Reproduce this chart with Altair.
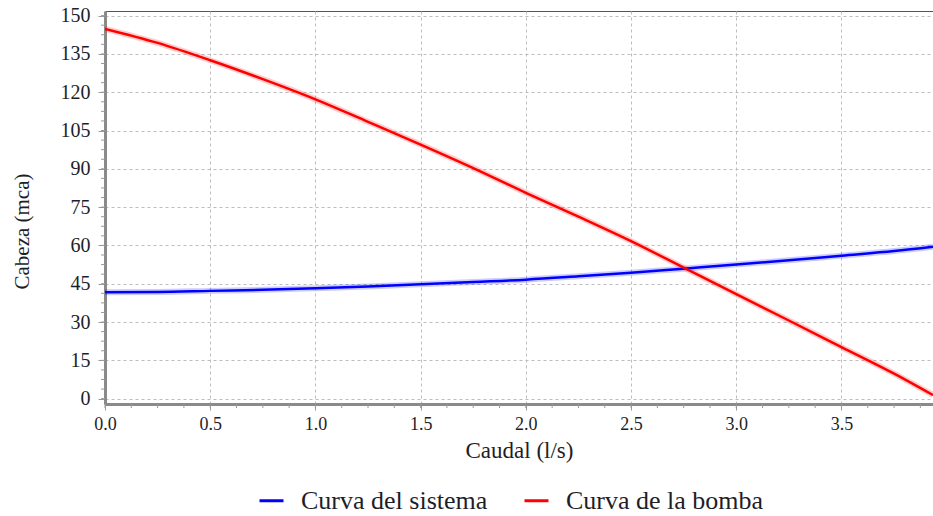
import altair as alt
import pandas as pd

# Caudal (l/s) at which both curves are sampled
caudal = [0.0, 0.25, 0.5, 0.75, 1.0, 1.25, 1.5, 1.75, 2.0, 2.25, 2.5,
          2.75, 3.0, 3.25, 3.5, 3.75, 3.935]

# Cabeza (mca) of the system curve
cabeza_sistema = [41.7, 41.8, 42.2, 42.6, 43.2, 43.9, 44.8, 45.7, 46.6,
                  47.9, 49.3, 50.9, 52.5, 54.2, 56.0, 57.8, 59.5]

# Cabeza (mca) of the pump curve
cabeza_bomba = [144.8, 139.3, 132.5, 125.1, 117.2, 108.4, 99.5, 90.3, 80.6,
                71.3, 61.7, 51.3, 40.9, 30.6, 20.2, 9.8, 1.4]

series_names = ["Curva del sistema", "Curva de la bomba"]
series_colors = ["#0000ff", "#ff0000"]

x_ticks = [0.0, 0.5, 1.0, 1.5, 2.0, 2.5, 3.0, 3.5]
y_ticks = [0, 15, 30, 45, 60, 75, 90, 105, 120, 135, 150]
x_minor = [0.125 * i for i in range(0, 32)]
y_minor = [3.75 * i for i in range(0, 41)]

x_domain = [0, 3.935]
y_domain = [-2.1, 151.8]

rows = []
for q, s, b in zip(caudal, cabeza_sistema, cabeza_bomba):
    rows.append({"caudal": q, "cabeza": s, "serie": series_names[0]})
    rows.append({"caudal": q, "cabeza": b, "serie": series_names[1]})
df = pd.DataFrame(rows)

FONT = "Liberation Serif"
TEXT = "#1e1e28"

x_scale = alt.Scale(domain=x_domain, nice=False, zero=False)
y_scale = alt.Scale(domain=y_domain, nice=False, zero=False)
color_scale = alt.Scale(domain=series_names, range=series_colors)

x_axis = alt.Axis(
    values=x_ticks, format=".1f", title="Caudal (l/s)",
    labelFont=FONT, labelFontSize=18, labelPadding=5, tickSize=6,
    labelFlush=False, labelOverlap=False,
    titleFont=FONT, titleFontSize=23, titleFontWeight="normal",
    titleBaseline="middle", titleY=46,
)
y_axis = alt.Axis(
    values=y_ticks, format="d", title="Cabeza (mca)",
    labelFont=FONT, labelFontSize=20, labelPadding=8, tickSize=7,
    labelFlush=False, labelOverlap=False,
    titleFont=FONT, titleFontSize=21, titleFontWeight="normal",
    titleAngle=270, titleAlign="center", titleBaseline="middle",
    titleX=-83, titleY=220,
)
legend = alt.Legend(
    title=None, orient="none", direction="horizontal", columns=2,
    legendX=153, legendY=476, symbolType="stroke", symbolSize=576,
    symbolStrokeWidth=3, symbolOpacity=1, labelFontSize=26, labelFont=FONT,
    labelColor=TEXT, labelOffset=16, labelLimit=0, columnPadding=30,
    padding=0,
)

X = alt.X("caudal:Q", scale=x_scale, axis=x_axis)
Y = alt.Y("cabeza:Q", scale=y_scale, axis=y_axis)
C = alt.Color("serie:N", scale=color_scale, sort=series_names, legend=legend)

base = alt.Chart(df)

# soft halo under each curve
halo = base.mark_line(
    strokeWidth=6, opacity=0.2, clip=True, interpolate="monotone"
).encode(x=X, y=Y, color=C)

curves = base.mark_line(
    strokeWidth=2.5, clip=True, interpolate="monotone"
).encode(x=X, y=Y, color=C)

# minor ticks along the bottom axis
x_minor_ticks = alt.Chart(pd.DataFrame({"v": x_minor})).mark_rule(
    color="#999999", strokeWidth=1
).encode(
    x=alt.X("v:Q", scale=x_scale, axis=x_axis),
    y=alt.value(393),
    y2=alt.value(397),
)

# minor ticks along the left axis
y_minor_ticks = alt.Chart(pd.DataFrame({"v": y_minor})).mark_rule(
    color="#999999", strokeWidth=1
).encode(
    y=alt.Y("v:Q", scale=y_scale, axis=y_axis),
    x=alt.value(-4),
    x2=alt.value(0),
)

chart = alt.layer(halo, curves, x_minor_ticks, y_minor_ticks).properties(
    width=828,
    height=393,
    autosize="none",
    padding={"left": 105, "top": 11, "right": 0, "bottom": 112},
    background="white",
).configure_view(
    stroke="#555555", strokeWidth=1
).configure_axis(
    labelFont=FONT, titleFont=FONT, labelColor=TEXT, titleColor=TEXT,
    grid=True, gridColor="#bdbdbd", gridDash=[3, 3], gridWidth=1,
    domainColor="#8a8a8a", domainWidth=3, tickColor="#999999", tickWidth=1,
)

chart.save("out.html", embed_options={"renderer": "svg", "actions": False})
